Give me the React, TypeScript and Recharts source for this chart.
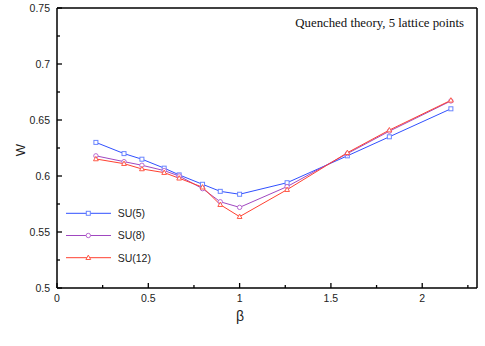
import React from 'react';
import { LineChart, Line, XAxis, YAxis, ReferenceLine, Legend } from 'recharts';

const beta = [0.213, 0.367, 0.465, 0.587, 0.669, 0.797, 0.894, 1.0, 1.26, 1.59, 1.82, 2.157];
const su5 = [0.63, 0.62, 0.615, 0.607, 0.601, 0.5926, 0.5863, 0.5837, 0.594, 0.618, 0.635, 0.66];
const su8 = [0.618, 0.6128, 0.6096, 0.6048, 0.6, 0.5887, 0.577, 0.572, 0.5905, 0.62, 0.64, 0.667];
const su12 = [0.6152, 0.611, 0.6063, 0.603, 0.598, 0.59, 0.5744, 0.5637, 0.5878, 0.6208, 0.641, 0.6676];

const xTicks = [0, 0.25, 0.5, 0.75, 1, 1.25, 1.5, 1.75, 2, 2.25];
const yTicks = [0.5, 0.525, 0.55, 0.575, 0.6, 0.625, 0.65, 0.675, 0.7, 0.725, 0.75];

const seriesNames = ['SU(5)', 'SU(8)', 'SU(12)'];
const seriesKeys = ['su5', 'su8', 'su12'];
const lineColors = ['#3050ff', '#a048c0', '#ff4030'];
const markerColors = ['#6a85ff', '#b868d0', '#ff5a48'];
const markerShapes = ['square', 'circle', 'triangle'];

const data = beta.map((b, i) => ({ beta: b, su5: su5[i], su8: su8[i], su12: su12[i] }));

const FONT = '"Liberation Sans", Arial, Helvetica, sans-serif';

function Marker({ cx, cy, shape, color }: any) {
  if (cx == null || cy == null) return null;
  if (shape === 'square') {
    return <rect x={cx - 2} y={cy - 2} width={4} height={4} fill="#fff" stroke={color} strokeWidth={1} />;
  }
  if (shape === 'circle') {
    return <circle cx={cx} cy={cy} r={2.2} fill="#fff" stroke={color} strokeWidth={1} />;
  }
  return (
    <polygon
      points={`${cx},${cy - 2.6} ${cx + 2.4},${cy + 1.8} ${cx - 2.4},${cy + 1.8}`}
      fill="#fff"
      stroke={color}
      strokeWidth={1}
    />
  );
}

const isMult = (v: number, step: number) => Math.abs(v / step - Math.round(v / step)) < 1e-6;

function XTick({ x, y, payload }: any) {
  const v = payload.value;
  const major = isMult(v, 0.5);
  return (
    <g>
      <line x1={x} y1={y} x2={x} y2={y - (major ? 5 : 3)} stroke="#000" strokeWidth={1.3} />
      {major && (
        <text x={x} y={y + 14} textAnchor="middle" fontSize={10.5} fontFamily={FONT} fill="#222">
          {String(v)}
        </text>
      )}
    </g>
  );
}

function YTick({ x, y, payload }: any) {
  const v = payload.value;
  const major = isMult(v, 0.05);
  return (
    <g>
      <line x1={x} y1={y} x2={x + (major ? 5 : 3)} y2={y} stroke="#000" strokeWidth={1.3} />
      {major && (
        <text x={x - 7} y={y + 3.8} textAnchor="end" fontSize={10.5} fontFamily={FONT} fill="#222">
          {String(Math.round(v * 100) / 100)}
        </text>
      )}
    </g>
  );
}

function LegendContent() {
  return (
    <svg width={120} height={70}>
      {seriesNames.map((name, i) => {
        const yy = 13.3 + i * 22.2;
        return (
          <g key={name}>
            <line x1={6} y1={yy} x2={51} y2={yy} stroke={lineColors[i]} strokeWidth={1} />
            <Marker cx={28.3} cy={yy} shape={markerShapes[i]} color={markerColors[i]} />
            <text x={57.7} y={yy + 3.8} fontSize={10.5} fontFamily={FONT} fill="#222">
              {name}
            </text>
          </g>
        );
      })}
    </svg>
  );
}

export default function App() {
  return (
    <div style={{ position: 'absolute', left: 0, top: 0, width: 485, height: 346, background: '#fff' }}>
      <LineChart width={485} height={346} data={data} margin={{ top: 8, right: 8, bottom: 0, left: 0 }}>
        <XAxis
          type="number"
          dataKey="beta"
          domain={[0, 2.3]}
          ticks={xTicks}
          interval={0}
          allowDataOverflow
          height={58}
          tickSize={0}
          tickMargin={0}
          tickLine={false}
          tick={<XTick />}
          stroke="#000"
          strokeWidth={1.5}
        />
        <YAxis
          type="number"
          domain={[0.5, 0.75]}
          ticks={yTicks}
          interval={0}
          allowDataOverflow
          width={57}
          tickSize={0}
          tickMargin={0}
          tickLine={false}
          tick={<YTick />}
          stroke="#000"
          strokeWidth={1.5}
        />
        <ReferenceLine y={0.75} stroke="#000" strokeWidth={1.5} />
        <ReferenceLine x={2.3} stroke="#000" strokeWidth={1.5} />
        {seriesKeys.map((k, i) => (
          <Line
            key={k}
            type="linear"
            dataKey={k}
            name={seriesNames[i]}
            stroke={lineColors[i]}
            strokeWidth={1}
            isAnimationActive={false}
            dot={(p: any) => <Marker key={`${k}-${p.index}`} cx={p.cx} cy={p.cy} shape={markerShapes[i]} color={markerColors[i]} />}
            activeDot={false}
          />
        ))}
        <Legend
          layout="vertical"
          align="center"
          verticalAlign="middle"
          content={<LegendContent />}
          wrapperStyle={{ left: 60, top: 200, width: 120, height: 70 }}
        />
        <text x={464} y={27} textAnchor="end" fontSize={12.8} fontFamily='"Liberation Serif", "Times New Roman", serif' fill="#111">
          Quenched theory, 5 lattice points
        </text>
        <text x={240} y={321} textAnchor="middle" fontSize={14} fontFamily={FONT} fill="#222">
          β
        </text>
        <text x={25} y={150} textAnchor="middle" fontSize={13} fontFamily={FONT} fill="#222" transform="rotate(-90 25 150)">
          W
        </text>
      </LineChart>
    </div>
  );
}
